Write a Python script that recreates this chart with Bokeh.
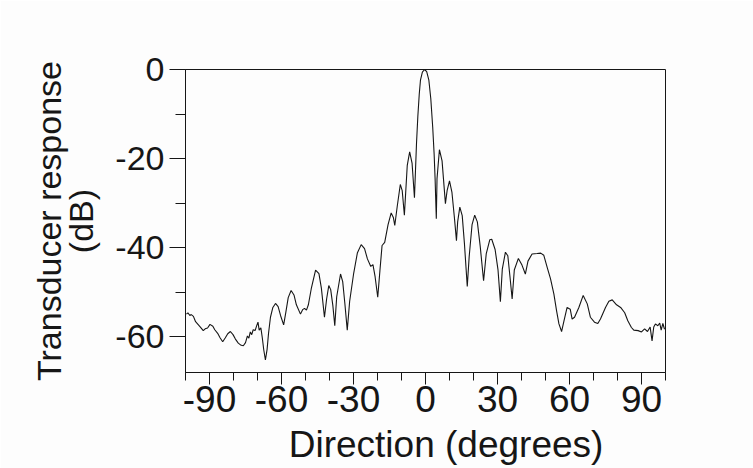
from bokeh.plotting import figure
from bokeh.models import Range1d, FixedTicker
from bokeh.embed import file_html
from bokeh.resources import INLINE

# Measured beam pattern: direction (degrees) against transducer response (dB)
direction_deg = [
    -99.6, -99.0, -98.2, -97.6, -96.7, -95.8, -94.8, -93.8, -92.6, -91.8,
    -90.8, -89.8, -88.6, -87.8, -86.6, -85.6, -84.5, -83.4, -82.4, -81.3,
    -80.2, -79.2, -78.0, -76.8, -75.9, -75.0, -74.2, -73.6, -73.0, -72.4,
    -71.8, -71.0, -70.4, -69.8, -69.3, -68.6, -68.0, -67.4, -66.7, -66.0,
    -65.4, -64.6, -63.6, -62.5, -61.4, -60.4, -59.1, -58.2, -57.2, -56.0,
    -54.8, -53.8, -52.1, -51.2, -50.4, -49.6, -48.8, -47.6, -45.8, -44.4,
    -43.4, -42.1, -41.2, -40.3, -39.5, -38.6, -37.8, -37.0, -35.4, -34.5,
    -33.6, -32.6, -31.6, -30.0, -28.4, -26.8, -25.4, -24.2, -22.8, -21.9,
    -21.0, -19.9, -19.0, -18.1, -17.0, -15.6, -14.3, -13.4, -12.8, -11.8,
    -10.5, -9.7, -8.8, -7.6, -6.6, -5.6, -4.6, -3.75, -3.2, -2.6,
    -2.1, -1.3, -0.4, 0.5, 1.4, 2.2, 3.0, 3.6, 4.0, 4.5,
    4.8, 5.8, 6.9, 8.3, 9.0, 10.0, 11.0, 12.0, 12.9, 13.4,
    14.3, 15.3, 16.2, 17.4, 18.2, 19.4, 20.5, 21.6, 22.8, 24.2,
    25.3, 26.8, 27.6, 29.0, 30.2, 31.2, 32.0, 33.3, 34.3, 35.2,
    36.1, 37.0, 38.7, 40.2, 41.6, 42.7, 44.4, 46.5, 48.0, 49.3,
    50.7, 52.1, 53.5, 54.6, 55.6, 56.7, 57.7, 59.0, 60.3, 61.1,
    62.1, 63.9, 65.7, 67.4, 68.7, 70.4, 71.8, 72.9, 75.0, 76.4,
    77.8, 79.6, 81.3, 83.0, 84.3, 85.8, 86.8, 88.6, 90.0, 91.3,
    92.5, 93.6, 94.4, 95.1, 95.8, 96.8, 97.6, 98.2, 98.9, 99.6,
]
response_db = [
    -54.9, -54.6, -55.2, -55.0, -55.4, -56.6, -57.2, -57.8, -58.6, -58.2,
    -58.0, -57.2, -57.6, -58.4, -59.2, -60.2, -61.1, -60.2, -59.3, -58.8,
    -59.5, -60.5, -61.4, -61.9, -62.0, -61.3, -59.8, -60.3, -58.9, -59.5,
    -58.4, -58.6, -57.6, -56.7, -58.5, -58.0, -60.2, -62.9, -65.2, -62.8,
    -59.2, -55.6, -53.4, -52.5, -53.2, -55.2, -57.3, -54.5, -51.2, -49.6,
    -50.6, -52.8, -54.9, -53.9, -53.6, -54.0, -52.8, -49.2, -45.0, -45.8,
    -49.0, -55.6, -51.5, -48.5, -49.4, -53.0, -57.5, -51.0, -45.9, -47.6,
    -52.5, -58.5, -52.0, -46.0, -41.2, -39.3, -40.2, -42.5, -44.2, -43.8,
    -46.5, -51.1, -45.2, -39.5, -38.8, -34.8, -32.2, -33.2, -35.0, -30.8,
    -25.8, -27.2, -32.7, -21.5, -18.5, -21.0, -28.8, -16.6, -10.6, -5.5,
    -2.4, -0.6, 0.0, -0.5, -2.4, -6.5, -12.9, -19.0, -24.5, -33.5,
    -24.5, -18.0, -20.5, -30.1, -27.2, -25.0, -27.5, -33.0, -38.4, -34.2,
    -30.9, -32.8, -38.9, -48.7, -42.0, -34.8, -32.7, -34.2, -39.7, -47.4,
    -41.4, -38.2, -38.1, -40.4, -44.9, -52.1, -44.8, -41.0, -41.8, -46.5,
    -51.5, -45.0, -42.4, -43.9, -45.9, -43.0, -41.4, -41.3, -41.2, -41.7,
    -44.4, -47.0, -50.4, -54.1, -57.1, -58.8, -56.4, -53.4, -53.8, -56.0,
    -55.6, -53.4, -50.7, -52.6, -55.6, -56.7, -57.0, -56.0, -53.4, -52.0,
    -51.7, -52.8, -53.4, -54.6, -56.4, -57.9, -58.5, -58.6, -58.9, -58.2,
    -58.8, -57.8, -60.9, -57.8, -57.1, -57.5, -56.9, -58.5, -57.0, -58.3,
]

x_major = [-90, -60, -30, 0, 30, 60, 90]
x_minor = list(range(-100, 101, 10))
y_major = [0, -20, -40, -60]
y_minor = [0, -10, -20, -30, -40, -50, -60]

# Tick labels written with a plain hyphen
x_tick_labels = {t: str(t) for t in x_major}
y_tick_labels = {t: str(t) for t in y_major}

# Non-breaking spaces nudge the centred title a little to the right
x_title = "\u00a0\u00a0\u00a0\u00a0Direction (degrees)"
y_title = "Transducer response\n(dB)"

INK = "#161616"
FONT = "Liberation Sans"

p = figure(
    width=753, height=468,
    x_range=Range1d(-100, 100), y_range=Range1d(-68, 0),
    output_backend="svg", toolbar_location=None,
    min_border_left=185, min_border_right=88,
    min_border_top=69, min_border_bottom=96,
)
p.background_fill_color = "#fdfdfd"
p.border_fill_color = "#fdfdfd"
p.outline_line_color = INK
p.outline_line_width = 1
p.xgrid.visible = False
p.ygrid.visible = False

p.line(direction_deg, response_db, line_color=INK, line_width=1.1)

# Bottom axis
xa = p.xaxis[0]
xa.ticker = FixedTicker(ticks=x_major, minor_ticks=x_minor)
xa.major_label_overrides = x_tick_labels
xa.major_tick_out = 12
xa.major_tick_in = 0
xa.minor_tick_out = 8
xa.minor_tick_in = 0
xa.axis_line_color = INK
xa.major_tick_line_color = INK
xa.minor_tick_line_color = INK
xa.major_label_text_font = FONT
xa.major_label_text_font_size = "37px"
xa.major_label_text_color = INK
xa.major_label_standoff = 1
xa.axis_label = x_title
xa.axis_label_text_font = FONT
xa.axis_label_text_font_size = "37px"
xa.axis_label_text_font_style = "normal"
xa.axis_label_text_color = INK
xa.axis_label_standoff = 9

# Left axis
ya = p.yaxis[0]
ya.ticker = FixedTicker(ticks=y_major, minor_ticks=y_minor)
ya.major_label_overrides = y_tick_labels
ya.major_tick_out = 16
ya.major_tick_in = 0
ya.minor_tick_out = 10
ya.minor_tick_in = 0
ya.axis_line_color = INK
ya.major_tick_line_color = INK
ya.minor_tick_line_color = INK
ya.major_label_text_font = FONT
ya.major_label_text_font_size = "34px"
ya.major_label_text_color = INK
ya.major_label_standoff = 5
ya.axis_label = y_title
ya.axis_label_text_font = FONT
ya.axis_label_text_font_size = "34px"
ya.axis_label_text_font_style = "normal"
ya.axis_label_text_color = INK
ya.axis_label_text_line_height = 0.85
ya.axis_label_standoff = 12

open("out.html", "w").write(file_html(p, INLINE))
